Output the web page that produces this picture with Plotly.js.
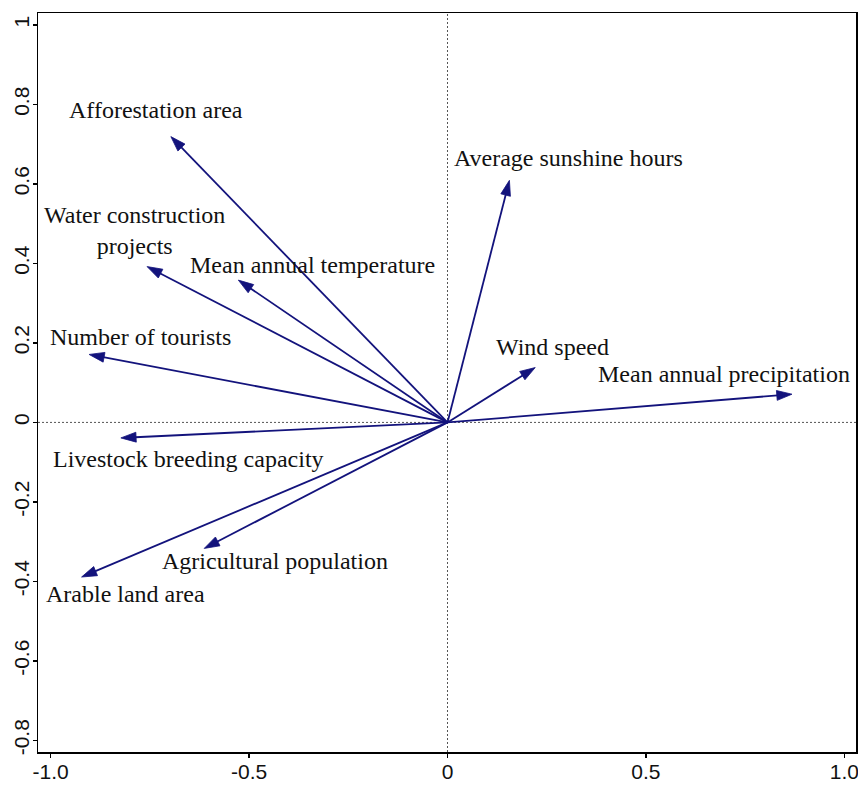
<!DOCTYPE html>
<html>
<head>
<meta charset="utf-8">
<script src="https://cdn.plot.ly/plotly-3.0.1.min.js"></script>
<style>html,body{margin:0;padding:0;background:#fff;}#chart{width:858px;height:785px;}</style>
</head>
<body>
<div id="chart"></div>
<script>
// Variable loadings
var variables = ["Afforestation area", "Average sunshine hours", "Water construction projects",
  "Mean annual temperature", "Number of tourists", "Wind speed", "Mean annual precipitation",
  "Livestock breeding capacity", "Agricultural population", "Arable land area"];
var axis1 = [-0.697, 0.156, -0.757, -0.527, -0.903, 0.221, 0.868, -0.823, -0.613, -0.922];
var axis2 = [0.719, 0.609, 0.392, 0.358, 0.171, 0.138, 0.071, -0.039, -0.317, -0.389];

// Tick labels
var xTickVals = [-1.0, -0.5, 0, 0.5, 1.0];
var xTickText = ["-1.0", "-0.5", "0", "0.5", "1.0"];
var yTickVals = [1, 0.8, 0.6, 0.4, 0.2, 0, -0.2, -0.4, -0.6, -0.8];
var yTickText = ["1", "0.8", "0.6", "0.4", "0.2", "0", "-0.2", "-0.4", "-0.6", "-0.8"];

// Label placement (layout, not data)
var labelText = ["Afforestation area", "Average sunshine hours", "Water construction<br>projects",
  "Mean annual temperature", "Number of tourists", "Wind speed", "Mean annual precipitation",
  "Livestock breeding capacity", "Agricultural population", "Arable land area"];
var labelX = [-0.735, 0.304, -0.789, -0.340, -0.773, 0.264, 0.696, -0.653, -0.434, -0.811];
var labelY = [0.786, 0.664, 0.482, 0.395, 0.214, 0.189, 0.122, -0.092, -0.348, -0.432];

var arrowColor = '#13137c';
var traces = variables.map(function(name, i) {
  return {
    type: 'scatter', mode: 'lines+markers', name: name,
    x: [0, axis1[i]], y: [0, axis2[i]],
    line: {color: arrowColor, width: 1.8},
    marker: {symbol: 'arrow', size: [0, 16], angleref: 'previous', color: arrowColor,
             opacity: 1, line: {width: 0.8, color: arrowColor}},
    opacity: 1,
    hoverinfo: 'skip', showlegend: false, cliponaxis: false
  };
});

var annotations = labelText.map(function(t, i) {
  return {x: labelX[i], y: labelY[i], xref: 'x', yref: 'y', text: t, showarrow: false,
          xanchor: 'center', yanchor: 'middle',
          font: {family: '"Liberation Serif", "Times New Roman", serif', size: 24, color: '#111'}};
});

var tickFont = {family: '"Liberation Sans", Arial, sans-serif', size: 21, color: '#111'};
var layout = {
  width: 858, height: 785,
  margin: {l: 38, r: 2, t: 13, b: 33, pad: 0},
  paper_bgcolor: '#fff', plot_bgcolor: '#fff',
  showlegend: false,
  xaxis: {range: [-1.0318, 1.0293], tickvals: xTickVals, ticktext: xTickText,
          showgrid: false, zeroline: false, showline: true, mirror: true,
          linecolor: '#000', linewidth: 1.5, ticks: 'outside', ticklen: 4, tickwidth: 1.5,
          tickcolor: '#000', tickfont: tickFont, fixedrange: true,
          ticklabeloverflow: 'allow', ticklabelstandoff: -4},
  yaxis: {range: [-0.8292, 1.030], tickvals: yTickVals, ticktext: yTickText,
          showgrid: false, zeroline: false, showline: true, mirror: true,
          linecolor: '#000', linewidth: 1.5, ticks: 'outside', ticklen: 4, tickwidth: 1.5,
          tickcolor: '#000', tickfont: tickFont, tickangle: -90, fixedrange: true,
          ticklabeloverflow: 'allow', ticklabelstandoff: -5},
  shapes: [
    {type: 'line', xref: 'x', yref: 'paper', x0: 0, x1: 0, y0: 0, y1: 1,
     line: {color: '#555', width: 1, dash: '2px,2px'}, layer: 'below'},
    {type: 'line', xref: 'paper', yref: 'y', x0: 0, x1: 1, y0: 0, y1: 0,
     line: {color: '#555', width: 1, dash: '2px,2px'}, layer: 'below'}
  ],
  annotations: annotations
};

Plotly.newPlot('chart', traces, layout, {staticPlot: true, displayModeBar: false});
</script>
</body>
</html>
